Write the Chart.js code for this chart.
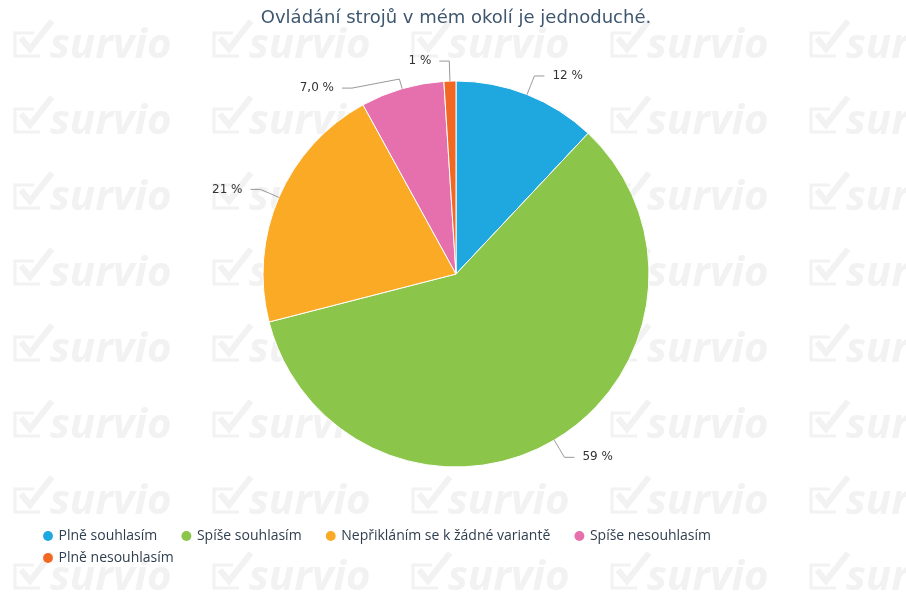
<!DOCTYPE html>
<html lang="cs">
<head>
<meta charset="utf-8">
<title>Ovládání strojů v mém okolí je jednoduché.</title>
<script src="https://cdn.jsdelivr.net/npm/chart.js@4.4.1/dist/chart.umd.min.js"></script>
<style>
  html, body { margin: 0; padding: 0; background: #fff; }
  #wrap { width: 906px; height: 596px; }
</style>
</head>
<body>
<div id="wrap"><canvas id="chart"></canvas></div>
<script>
// Survey question: answer shares in percent.
const TITLE = 'Ovládání strojů v mém okolí je jednoduché.';
const answers = ['Plně souhlasím', 'Spíše souhlasím', 'Nepřikláním se k žádné variantě', 'Spíše nesouhlasím', 'Plně nesouhlasím'];
const shares = [12, 59, 21, 7.0, 1];
const shareDecimals = [0, 0, 0, 1, 0];
const sliceColors = ['#1fa8e0', '#8bc54a', '#fbaa25', '#e570ad', '#f26822'];

function shareText(i) {
  return shares[i].toFixed(shareDecimals[i]).replace('.', ',') + ' %';
}

// Faint "survio" tiles under the whole chart.
const watermark = {
  id: 'watermark',
  beforeDraw(chart) {
    const { ctx, width, height } = chart;
    ctx.save();
    ctx.fillStyle = '#fff';
    ctx.fillRect(0, 0, width, height);
    ctx.fillStyle = '#f2f2f2';
    ctx.strokeStyle = '#f2f2f2';
    ctx.font = 'italic bold 42px "Open Sans"';
    ctx.textBaseline = 'alphabetic';
    ctx.lineJoin = 'miter';
    for (let row = 0; row < 8; row++) {
      const y = 58 + row * 76;
      for (let col = 0; col < 5; col++) {
        const x = 12 + col * 199;
        ctx.lineWidth = 3;
        ctx.beginPath();
        ctx.moveTo(x + 22, y - 25);
        ctx.lineTo(x + 3, y - 25);
        ctx.lineTo(x + 3, y - 2);
        ctx.lineTo(x + 28, y - 2);
        ctx.stroke();
        ctx.lineWidth = 6;
        ctx.beginPath();
        ctx.moveTo(x + 9, y - 20);
        ctx.lineTo(x + 18, y - 9);
        ctx.lineTo(x + 40, y - 37);
        ctx.stroke();
        ctx.fillText('survio', x + 38, y);
      }
    }
    ctx.restore();
  }
};

// Outside labels with bent connector lines.
const sliceLabels = {
  id: 'sliceLabels',
  afterDatasetsDraw(chart) {
    const { ctx } = chart;
    const arcs = chart.getDatasetMeta(0).data;
    const items = arcs.map((arc, i) => {
      const p = arc.getProps(['x', 'y', 'startAngle', 'endAngle', 'outerRadius'], true);
      const mid = (p.startAngle + p.endAngle) / 2;
      const R = p.outerRadius + 20;
      return {
        i, cx: p.x, cy: p.y, r: p.outerRadius, mid, R,
        ly: p.y + Math.sin(mid) * R,
        side: Math.cos(mid) >= 0 ? 1 : -1,
      };
    });

    // keep labels on one side from overlapping
    for (const side of [1, -1]) {
      const list = items.filter(it => it.side === side).sort((a, b) => a.ly - b.ly);
      for (let k = 1; k < list.length; k++) {
        list[k].ly = Math.max(list[k].ly, list[k - 1].ly + 27);
      }
    }

    ctx.save();
    ctx.font = '12px "DejaVu Sans"';
    ctx.textBaseline = 'middle';
    for (const it of items) {
      const c = Math.cos(it.mid), s = Math.sin(it.mid);
      const dy = it.ly - it.cy;
      const lx = it.cx + it.side * Math.sqrt(Math.max(it.R * it.R - dy * dy, 0));

      ctx.strokeStyle = '#999';
      ctx.lineWidth = 1;
      ctx.beginPath();
      ctx.moveTo(it.cx + c * it.r, it.cy + s * it.r);
      ctx.lineTo(it.cx + c * (it.r + 10), it.cy + s * (it.r + 10));
      ctx.lineTo(lx, it.ly);
      ctx.lineTo(lx + it.side * 10, it.ly);
      ctx.stroke();

      ctx.fillStyle = '#333';
      ctx.textAlign = it.side > 0 ? 'left' : 'right';
      ctx.fillText(shareText(it.i), lx + it.side * 18, it.ly);
    }
    ctx.restore();
  }
};

new Chart(document.getElementById('chart'), {
  type: 'pie',
  data: {
    labels: answers,
    datasets: [{
      data: shares,
      backgroundColor: sliceColors,
      borderColor: '#fff',
      borderWidth: 1,
      hoverOffset: 0,
      radius: 193,
    }],
  },
  options: {
    responsive: true,
    maintainAspectRatio: false,
    animation: false,
    layout: { padding: { left: 36.5, right: 30.5, top: 0, bottom: 21 } },
    plugins: {
      tooltip: { enabled: false },
      title: {
        display: true,
        text: TITLE,
        color: '#3e576f',
        font: { family: '"DejaVu Sans"', size: 18, weight: 'normal', lineHeight: 1 },
        padding: { top: 9, bottom: 0 },
      },
      legend: {
        position: 'bottom',
        align: 'start',
        labels: {
          color: '#2f3e4e',
          font: { family: '"Open Sans"', size: 14 },
          usePointStyle: true,
          pointStyle: 'circle',
          boxWidth: 7,
          boxHeight: 7,
          padding: 8,
          generateLabels(chart) {
            const base = Chart.overrides.pie.plugins.legend.labels.generateLabels(chart);
            return base.map(item => ({
              ...item,
              text: item.text + '\u2003 ',
              lineWidth: 0,
              strokeStyle: item.fillStyle,
              pointStyle: 'circle',
            }));
          },
        },
      },
    },
  },
  plugins: [watermark, sliceLabels],
});
</script>
</body>
</html>
